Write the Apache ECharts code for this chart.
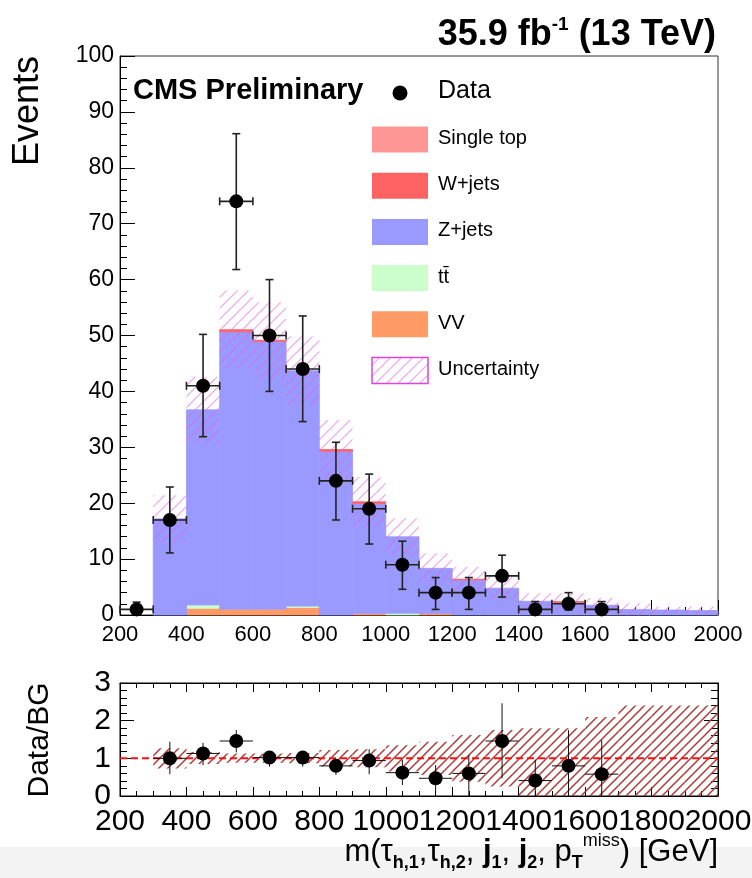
<!DOCTYPE html>
<html><head><meta charset="utf-8">
<script src="https://cdn.jsdelivr.net/npm/echarts@6/dist/echarts.min.js"></script>
<style>html,body{margin:0;padding:0;background:#fff}#c{width:752px;height:878px}</style>
</head><body><div id="c"></div>
<script>
// ---------------- data ----------------
const binLow = [200,300,400,500,600,700,800,900,1000,1100,1200,1300,1400,1500,1600,1700,1800,1900];
const binWidth = 100;
const vv        = [0, 0, 1.2, 1.05, 1.05, 1.35, 0, 0.25, 0, 0.25, 0, 0, 0, 0, 0, 0, 0, 0];
const ttbar     = [0, 0, 0.6, 0, 0, 0.25, 0, 0, 0.3, 0, 0, 0, 0, 0, 0, 0, 0, 0];
const zjets     = [0, 17.2, 34.9, 49.6, 47.9, 42.1, 29.3, 19.7, 13.7, 8.1, 6.3, 4.8, 2.45, 2.3, 1.75, 1.0, 0.9, 0.8];
const wjets     = [0, 0, 0, 0.4, 0.2, 0, 0.3, 0.3, 0, 0, 0.1, 0, 0, 0.1, 0, 0, 0, 0];
const singleTop = [0, 0, 0, 0, 0, 0, 0, 0, 0, 0, 0, 0, 0, 0, 0, 0, 0, 0];
const bgUnc     = [0, 4.2, 5.9, 7.0, 6.8, 6.1, 5.3, 4.4, 3.3, 2.7, 2.2, 2.0, 1.45, 1.5, 1.3, 1.1, 0.6, 0.7];

const dataX  = [250, 350, 450, 550, 650, 750, 850, 950, 1050, 1150, 1250, 1350, 1450, 1550, 1650];
const dataY  = [1, 17, 41, 74, 50, 44, 24, 19, 9, 4, 4, 7, 1, 2, 1];
const dataLo = [0.2, 11.1, 31.9, 61.8, 40, 34.6, 17, 12.7, 4.6, 1.0, 1.0, 3.2, 0.2, 0.9, 0.2];
const dataHi = [2.3, 22.9, 50.2, 86.1, 60, 53.5, 30.9, 25.2, 13.2, 6.7, 6.7, 10.7, 2.4, 4.0, 2.4];

const ratioX  = [350, 450, 550, 650, 750, 850, 950, 1050, 1150, 1250, 1350, 1450, 1550, 1650];
const ratioY  = [1.0, 1.13, 1.46, 1.02, 1.02, 0.8, 0.94, 0.62, 0.47, 0.6, 1.46, 0.41, 0.8, 0.58];
const ratioLo = [0.58, 0.82, 1.16, 0.78, 0.78, 0.56, 0.58, 0.29, 0.09, 0, 0.47, 0, 0, 0];
const ratioHi = [1.44, 1.41, 1.75, 1.13, 1.13, 0.96, 1.24, 0.96, 0.82, 1.09, 2.46, 0.96, 1.75, 1.49];

const bandLow = [300,400,500,600,700,800,900,1000,1100,1200,1300,1400,1500,1600,1700,1800,1900];
const bandLo  = [0.73, 0.85, 0.88, 0.88, 0.87, 0.78, 0.76, 0.65, 0.56, 0.38, 0.25, 0, 0, 0, 0, 0, 0];
const bandHi  = [1.27, 1.17, 1.13, 1.13, 1.14, 1.22, 1.24, 1.35, 1.44, 1.62, 1.75, 1.8, 1.8, 2.1, 2.4, 2.4, 2.4];

const legendNames = ['Single top', 'W+jets', 'Z+jets', 'tt\u0304', 'VV', 'Uncertainty'];

// ---------------- styles ----------------
const FONT = '"Liberation Sans", Arial, Helvetica, sans-serif';
const COL = { st:'#fe9696', w:'#fe6262', z:'#9a9afe', tt:'#ccfecc', vv:'#fe9a66' };

function hatch(color, size, lw){
  const c = document.createElement('canvas');
  c.width = size; c.height = size;
  const ctx = c.getContext('2d');
  ctx.strokeStyle = color; ctx.lineWidth = lw;
  ctx.beginPath();
  ctx.moveTo(0, size); ctx.lineTo(size, 0);
  ctx.moveTo(-size/2, size/2); ctx.lineTo(size/2, -size/2);
  ctx.moveTo(size/2, size*1.5); ctx.lineTo(size*1.5, size/2);
  ctx.stroke();
  return { image: c, repeat: 'repeat' };
}
const hatchTop = hatch('rgba(225,100,225,0.6)', 11, 1.2);
const hatchRatio = hatch('#b03a3a', 9, 1.5);

function rectRender(fill){
  return function(params, api){
    const y0 = api.value(2), y1 = api.value(3);
    if (!(y1 - y0 > 0)) return { type:'group', children:[] };
    const a = api.coord([api.value(0), y0]);
    const b = api.coord([api.value(1), y1]);
    const col = fill || api.visual('color');
    return { type:'rect', shape:{ x:a[0], y:b[1], width:b[0]-a[0], height:a[1]-b[1] },
             style:{ fill: col, stroke: fill ? null : col, lineWidth: fill ? 0 : 0.8 } };
  };
}

function errRender(caps, color, lw){
  return function(params, api){
    const x = api.value(0), y = api.value(1), lo = api.value(2), hi = api.value(3), hw = api.value(4);
    const c = api.coord([x, y]);
    const l = api.coord([x - hw, y]), r = api.coord([x + hw, y]);
    const t = api.coord([x, hi]), b = api.coord([x, lo]);
    const st = { stroke: color, lineWidth: lw };
    const ch = [
      { type:'line', shape:{ x1:l[0], y1:c[1], x2:r[0], y2:c[1] }, style: st },
      { type:'line', shape:{ x1:c[0], y1:t[1], x2:c[0], y2:b[1] }, style: st }
    ];
    if (caps) {
      const k = 4;
      ch.push({ type:'line', shape:{ x1:l[0], y1:c[1]-k, x2:l[0], y2:c[1]+k }, style: st });
      ch.push({ type:'line', shape:{ x1:r[0], y1:c[1]-k, x2:r[0], y2:c[1]+k }, style: st });
      ch.push({ type:'line', shape:{ x1:c[0]-k, y1:t[1], x2:c[0]+k, y2:t[1] }, style: st });
      if (lo > 0.5) ch.push({ type:'line', shape:{ x1:c[0]-k, y1:b[1], x2:c[0]+k, y2:b[1] }, style: st });
    }
    return { type:'group', children: ch };
  };
}

// ---------------- stacks ----------------
const components = [
  { name:'VV', vals: vv, color: COL.vv },
  { name:'tt\u0304', vals: ttbar, color: COL.tt },
  { name:'Z+jets', vals: zjets, color: COL.z },
  { name:'W+jets', vals: wjets, color: COL.w },
  { name:'Single top', vals: singleTop, color: COL.st }
];
let base = binLow.map(() => 0);
const series = [];
components.forEach(comp => {
  const d = binLow.map((x, i) => [x, x + binWidth, base[i], base[i] + comp.vals[i]]);
  base = base.map((b, i) => b + comp.vals[i]);
  series.push({ type:'custom', name: comp.name, xAxisIndex:0, yAxisIndex:0, silent:true, z:1,
    renderItem: rectRender(null), itemStyle:{ color: comp.color }, encode:{ x:[0,1], y:[2,3] }, data: d });
});
const total = base;
series.push({ type:'custom', name:'Uncertainty', xAxisIndex:0, yAxisIndex:0, silent:true, z:2,
  renderItem: rectRender(hatchTop), encode:{ x:[0,1], y:[2,3] },
  data: binLow.map((x, i) => [x, x + binWidth, total[i] - bgUnc[i], total[i] + bgUnc[i]]).filter((d, i) => total[i] > 0) });
series.push({ type:'custom', name:'DataErr', xAxisIndex:0, yAxisIndex:0, silent:true, z:3,
  renderItem: errRender(true, '#222', 1.6), encode:{ x:0, y:1 },
  data: dataX.map((x, i) => [x, dataY[i], dataLo[i], dataHi[i], binWidth/2]) });
series.push({ type:'scatter', name:'Data', xAxisIndex:0, yAxisIndex:0, silent:true, z:4,
  symbol:'circle', symbolSize:14, itemStyle:{ color:'#000', opacity:1 },
  data: dataX.map((x, i) => [x, dataY[i]]) });

// ratio
series.push({ type:'custom', name:'RatioBand', xAxisIndex:1, yAxisIndex:1, silent:true, z:1, clip:true,
  renderItem: rectRender(hatchRatio), encode:{ x:[0,1], y:[2,3] },
  data: bandLow.map((x, i) => [x, x + binWidth, bandLo[i], bandHi[i]]) });
series.push({ type:'line', name:'Unity', xAxisIndex:1, yAxisIndex:1, silent:true, z:2, symbol:'none',
  lineStyle:{ color:'#ff1010', width:2, type:[7,4] }, data: [[200, 1], [2000, 1]] });
series.push({ type:'custom', name:'RatioErr', xAxisIndex:1, yAxisIndex:1, silent:true, z:3, clip:true,
  renderItem: errRender(false, '#111', 1), encode:{ x:0, y:1 },
  data: ratioX.map((x, i) => [x, ratioY[i], ratioLo[i], ratioHi[i], binWidth/2]) });
series.push({ type:'scatter', name:'Ratio', xAxisIndex:1, yAxisIndex:1, silent:true, z:4,
  symbol:'circle', symbolSize:14, itemStyle:{ color:'#000', opacity:1 },
  data: ratioX.map((x, i) => [x, ratioY[i]]) });

// ---------------- axes ----------------
const plainFmt = v => String(v);
const AXMAX = 2000;
function xAx(grid, opts){
  return Object.assign({
    type:'value', gridIndex: grid, min:200, max:AXMAX, interval:200,
    axisLine:{ show:true, onZero:false, lineStyle:{ color:'#000', width:1 } },
    axisTick:{ show:true, inside:true, length:15, lineStyle:{ color:'#000' } },
    minorTick:{ show:true, splitNumber:4, length:8, lineStyle:{ color:'#000' } },
    splitLine:{ show:false },
    axisLabel:{ show:true, color:'#000', fontFamily:FONT, fontSize:22, margin:9, hideOverlap:false, showMinLabel:true, showMaxLabel:true, formatter: plainFmt }
  }, opts || {});
}
const bottomLabel = { show:true, color:'#000', fontFamily:FONT, fontSize:30, margin:11, hideOverlap:false, showMinLabel:true, showMaxLabel:true };
const xAxes = [
  xAx(0),
  // ratio bottom axis: all labels except the last (drawn by a companion axis so overlapping labels are all kept)
  xAx(1, { axisTick:{ show:true, inside:true, length:9, lineStyle:{ color:'#000' } },
           minorTick:{ show:true, splitNumber:4, length:5, lineStyle:{ color:'#000' } },
           axisLabel: Object.assign({}, bottomLabel, { formatter: v => (v === AXMAX ? '' : String(v)) }) }),
  xAx(1, { position:'top', axisLabel:{ show:false },
           axisTick:{ show:true, inside:true, length:9, lineStyle:{ color:'#000' } },
           minorTick:{ show:true, splitNumber:4, length:5, lineStyle:{ color:'#000' } } }),
  xAx(1, { position:'bottom', offset:0, axisLine:{ show:false }, axisTick:{ show:false }, minorTick:{ show:false },
           axisLabel: Object.assign({}, bottomLabel, { formatter: v => (v === AXMAX ? String(v) : '') }) })
];
const yAxes = [
  { type:'value', gridIndex:0, min:0, max:100, interval:10,
    axisLine:{ show:true, lineStyle:{ color:'#000' } },
    axisTick:{ show:true, inside:true, length:15, lineStyle:{ color:'#000' } },
    minorTick:{ show:true, splitNumber:5, length:7, lineStyle:{ color:'#000' } },
    splitLine:{ show:false },
    axisLabel:{ color:'#000', fontFamily:FONT, fontSize:23, margin:6, formatter: plainFmt } },
  { type:'value', gridIndex:1, min:0, max:3, interval:1,
    axisLine:{ show:true, lineStyle:{ color:'#000' } },
    axisTick:{ show:true, inside:true, length:14, lineStyle:{ color:'#000' } },
    minorTick:{ show:true, splitNumber:5, length:7, lineStyle:{ color:'#000' } },
    splitLine:{ show:false },
    axisLabel:{ color:'#000', fontFamily:FONT, fontSize:30, margin:9, formatter: plainFmt } },
  { type:'value', gridIndex:1, min:0, max:3, interval:1, position:'right',
    axisLine:{ show:true, lineStyle:{ color:'#000' } },
    axisTick:{ show:true, inside:true, length:14, lineStyle:{ color:'#000' } },
    minorTick:{ show:true, splitNumber:5, length:7, lineStyle:{ color:'#000' } },
    splitLine:{ show:false }, axisLabel:{ show:false } }
];

// ---------------- legend / text graphics ----------------
const graphics = [
  { type:'rect', z:-10, shape:{ x:0, y:847, width:752, height:31 }, style:{ fill:'#f3f3f3' } },
  { type:'text', left:133, top:76, style:{ text:'CMS Preliminary', font:'bold 29px ' + FONT, fill:'#000' } },
  { type:'circle', shape:{ cx:400, cy:93, r:7.5 }, style:{ fill:'#000' } },
  { type:'text', left:438, top:79, style:{ text:'Data', font:'25px ' + FONT, fill:'#000' } },
  { type:'text', x:28, y:111, rotation:Math.PI/2, style:{ text:'Events', font:'36px ' + FONT, fill:'#000', align:'center', verticalAlign:'middle' } },
  { type:'text', x:40, y:740, rotation:Math.PI/2, style:{ text:'Data/BG', font:'30px ' + FONT, fill:'#000', align:'center', verticalAlign:'middle' } },
  { type:'text', right:34, top:832, style:{
      text:'{n|m(τ}{b|h,1}{n|,τ}{b|h,2}{n|, }{j|j}{b|1}{n|, }{j|j}{b|2}{n|, p}{b|T}{p|miss}{n|) [GeV]}',
      rich:{
        n:{ fontFamily:FONT, fontSize:31, fill:'#000', lineHeight:40, verticalAlign:'middle' },
        j:{ fontFamily:FONT, fontSize:31, fontWeight:'bold', fill:'#000', lineHeight:40, verticalAlign:'middle' },
        b:{ fontFamily:FONT, fontSize:18, fontWeight:'bold', fill:'#000', verticalAlign:'bottom' },
        p:{ fontFamily:FONT, fontSize:18, fill:'#000', verticalAlign:'top' }
      } } }
];
const legendFills = [COL.st, COL.w, COL.z, COL.tt, COL.vv, hatchTop];
legendNames.forEach((nm, i) => {
  const cy = 139.5 + i * 46.2;
  const isUnc = i === legendFills.length - 1;
  graphics.push({ type:'rect', shape:{ x:372, y:cy - 13, width:56, height:26 },
    style:{ fill: legendFills[i], stroke: isUnc ? '#dd44dd' : null, lineWidth: isUnc ? 1.5 : 0 } });
  graphics.push({ type:'text', left:438, top:cy - 11, style:{ text: nm, font:'20px ' + FONT, fill:'#000' } });
});

const chart = echarts.init(document.getElementById('c'), null, { renderer:'canvas' });
chart.setOption({
  animation:false,
  backgroundColor:'#fff',
  title:{ text:'{a|35.9 fb}{s|-1}{a| (13 TeV)}', right:31, top:10,
    textStyle:{ rich:{
      a:{ fontFamily:FONT, fontSize:36, fontWeight:'bold', color:'#000', lineHeight:40 },
      s:{ fontFamily:FONT, fontSize:19, fontWeight:'bold', color:'#000', verticalAlign:'top' }
    } } },
  grid:[
    { left:120, top:56, width:598, height:559, show:true, borderColor:'#333', borderWidth:1, backgroundColor:'transparent', containLabel:false, outerBoundsMode:'none' },
    { left:120, top:683, width:598, height:113, show:true, borderColor:'#000', borderWidth:1, backgroundColor:'transparent', containLabel:false, outerBoundsMode:'none' }
  ],
  xAxis: xAxes,
  yAxis: yAxes,
  graphic: graphics,
  series: series
});
</script></body></html>
